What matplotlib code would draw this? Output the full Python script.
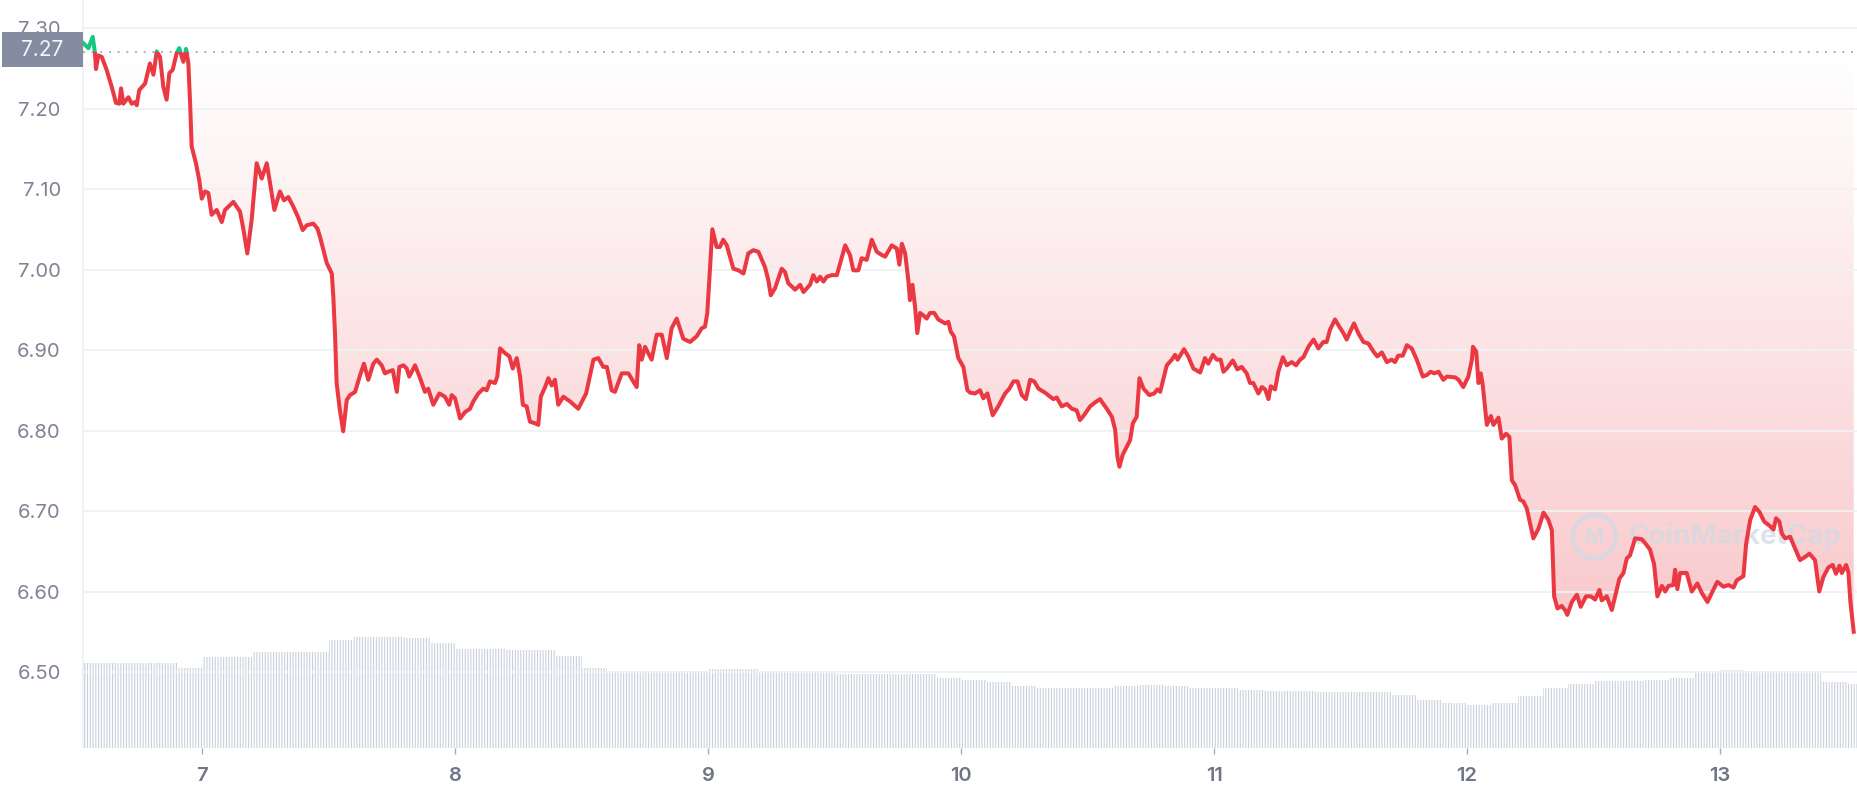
"""CoinMarketCap 스타일 7일 가격 차트: 기준가 대비 빨강/초록 선, 그라데이션 영역, 거래량 막대."""

import matplotlib.colors as mcolors
import matplotlib.pyplot as plt
import matplotlib.transforms as mtransforms
import numpy as np
from matplotlib.patches import Rectangle

plt.rcParams["font.family"] = ["Inter", "DejaVu Sans"]
plt.rcParams["hatch.linewidth"] = 0.8

# 가격 이력 (x: 일자, 소수부는 하루 중 시각)
times = [
    6.531, 6.551, 6.568, 6.577, 6.581, 6.590, 6.604, 6.623, 6.643, 6.660,
    6.673, 6.680, 6.689, 6.709, 6.722, 6.735, 6.742, 6.752, 6.775, 6.794,
    6.808, 6.821, 6.834, 6.847, 6.860, 6.871, 6.884, 6.900, 6.910, 6.926,
    6.937, 6.946, 6.953, 6.959, 6.976, 6.989, 6.999, 7.012, 7.025, 7.038,
    7.058, 7.078, 7.091, 7.124, 7.150, 7.163, 7.179, 7.196, 7.216, 7.236,
    7.256, 7.269, 7.286, 7.308, 7.324, 7.341, 7.361, 7.381, 7.398, 7.414,
    7.440, 7.456, 7.466, 7.493, 7.513, 7.519, 7.526, 7.532, 7.545, 7.558,
    7.572, 7.585, 7.605, 7.625, 7.640, 7.657, 7.677, 7.691, 7.710, 7.723,
    7.736, 7.754, 7.770, 7.780, 7.796, 7.809, 7.819, 7.842, 7.862, 7.881,
    7.894, 7.914, 7.938, 7.960, 7.977, 7.987, 8.000, 8.020, 8.040, 8.059,
    8.072, 8.092, 8.112, 8.125, 8.138, 8.158, 8.167, 8.178, 8.198, 8.215,
    8.228, 8.244, 8.257, 8.268, 8.283, 8.296, 8.316, 8.329, 8.339, 8.356,
    8.369, 8.382, 8.395, 8.408, 8.428, 8.455, 8.487, 8.518, 8.547, 8.566,
    8.586, 8.600, 8.619, 8.632, 8.659, 8.685, 8.718, 8.728, 8.738, 8.751,
    8.777, 8.797, 8.817, 8.837, 8.856, 8.876, 8.902, 8.929, 8.955, 8.975,
    8.988, 8.997, 9.008, 9.017, 9.034, 9.047, 9.060, 9.074, 9.100, 9.120,
    9.140, 9.159, 9.179, 9.199, 9.225, 9.238, 9.248, 9.265, 9.291, 9.304,
    9.317, 9.344, 9.364, 9.377, 9.403, 9.416, 9.430, 9.443, 9.456, 9.469,
    9.489, 9.509, 9.542, 9.561, 9.574, 9.594, 9.607, 9.627, 9.647, 9.667,
    9.687, 9.700, 9.726, 9.746, 9.756, 9.766, 9.779, 9.792, 9.798, 9.808,
    9.818, 9.827, 9.838, 9.851, 9.864, 9.877, 9.894, 9.910, 9.937, 9.950,
    9.959, 9.972, 9.989, 10.009, 10.025, 10.036, 10.055, 10.075, 10.088, 10.104,
    10.125, 10.147, 10.174, 10.191, 10.207, 10.223, 10.240, 10.256, 10.273, 10.289,
    10.306, 10.332, 10.352, 10.365, 10.378, 10.398, 10.418, 10.438, 10.457, 10.470,
    10.486, 10.510, 10.530, 10.549, 10.576, 10.596, 10.609, 10.618, 10.626, 10.639,
    10.655, 10.668, 10.679, 10.694, 10.705, 10.721, 10.744, 10.763, 10.776, 10.787,
    10.813, 10.833, 10.846, 10.856, 10.881, 10.898, 10.918, 10.945, 10.964, 10.977,
    10.995, 11.011, 11.026, 11.037, 11.050, 11.074, 11.092, 11.109, 11.129, 11.142,
    11.155, 11.175, 11.189, 11.202, 11.215, 11.224, 11.241, 11.254, 11.272, 11.287,
    11.307, 11.324, 11.340, 11.353, 11.373, 11.393, 11.412, 11.432, 11.445, 11.458,
    11.478, 11.495, 11.511, 11.524, 11.538, 11.553, 11.570, 11.590, 11.610, 11.630,
    11.645, 11.663, 11.683, 11.702, 11.715, 11.728, 11.746, 11.762, 11.781, 11.801,
    11.825, 11.841, 11.856, 11.870, 11.887, 11.906, 11.920, 11.953, 11.966, 11.985,
    12.005, 12.019, 12.023, 12.036, 12.045, 12.054, 12.062, 12.078, 12.094, 12.104,
    12.124, 12.137, 12.154, 12.167, 12.177, 12.190, 12.209, 12.222, 12.236, 12.262,
    12.282, 12.302, 12.321, 12.335, 12.344, 12.357, 12.374, 12.387, 12.396, 12.414,
    12.434, 12.449, 12.470, 12.489, 12.506, 12.523, 12.532, 12.552, 12.572, 12.585,
    12.602, 12.618, 12.631, 12.644, 12.664, 12.690, 12.704, 12.723, 12.739, 12.752,
    12.770, 12.783, 12.796, 12.815, 12.822, 12.831, 12.842, 12.868, 12.888, 12.910,
    12.928, 12.950, 12.973, 12.989, 13.013, 13.033, 13.053, 13.066, 13.092, 13.103,
    13.119, 13.138, 13.155, 13.174, 13.198, 13.211, 13.221, 13.234, 13.244, 13.257,
    13.277, 13.290, 13.316, 13.336, 13.353, 13.375, 13.392, 13.408, 13.428, 13.445,
    13.458, 13.472, 13.481, 13.498, 13.507, 13.515, 13.528,
]
prices = [
    7.281, 7.275, 7.289, 7.269, 7.249, 7.266, 7.264, 7.248, 7.227, 7.207,
    7.206, 7.225, 7.206, 7.214, 7.206, 7.208, 7.204, 7.223, 7.231, 7.256,
    7.242, 7.271, 7.264, 7.227, 7.211, 7.244, 7.248, 7.269, 7.275, 7.258,
    7.274, 7.256, 7.206, 7.153, 7.132, 7.111, 7.088, 7.097, 7.095, 7.068,
    7.074, 7.059, 7.074, 7.084, 7.072, 7.051, 7.020, 7.061, 7.132, 7.113,
    7.132, 7.107, 7.074, 7.097, 7.086, 7.090, 7.078, 7.064, 7.049, 7.055,
    7.057, 7.051, 7.041, 7.008, 6.995, 6.966, 6.917, 6.859, 6.825, 6.799,
    6.838, 6.844, 6.848, 6.869, 6.883, 6.863, 6.883, 6.888, 6.881, 6.871,
    6.873, 6.875, 6.848, 6.879, 6.881, 6.877, 6.867, 6.881, 6.865, 6.848,
    6.852, 6.832, 6.846, 6.842, 6.832, 6.844, 6.840, 6.815, 6.823, 6.827,
    6.836, 6.846, 6.852, 6.850, 6.861, 6.859, 6.867, 6.902, 6.896, 6.892,
    6.877, 6.890, 6.867, 6.832, 6.830, 6.811, 6.809, 6.807, 6.842, 6.854,
    6.865, 6.856, 6.863, 6.832, 6.842, 6.836, 6.827, 6.846, 6.888, 6.890,
    6.879, 6.879, 6.850, 6.848, 6.871, 6.871, 6.854, 6.906, 6.888, 6.904,
    6.888, 6.919, 6.919, 6.890, 6.927, 6.939, 6.914, 6.910, 6.917, 6.927,
    6.929, 6.946, 7.003, 7.050, 7.028, 7.028, 7.037, 7.030, 7.001, 6.999,
    6.995, 7.020, 7.024, 7.022, 7.003, 6.987, 6.968, 6.977, 7.001, 6.997,
    6.983, 6.975, 6.981, 6.972, 6.981, 6.993, 6.985, 6.991, 6.985, 6.991,
    6.993, 6.993, 7.030, 7.018, 6.999, 6.999, 7.014, 7.012, 7.037, 7.022,
    7.018, 7.016, 7.030, 7.026, 7.006, 7.032, 7.020, 6.985, 6.962, 6.981,
    6.954, 6.921, 6.946, 6.943, 6.939, 6.946, 6.946, 6.938, 6.933, 6.935,
    6.923, 6.917, 6.890, 6.879, 6.850, 6.847, 6.846, 6.850, 6.840, 6.846,
    6.819, 6.830, 6.846, 6.852, 6.861, 6.861, 6.844, 6.839, 6.863, 6.861,
    6.852, 6.847, 6.842, 6.839, 6.841, 6.830, 6.833, 6.827, 6.825, 6.813,
    6.819, 6.830, 6.835, 6.839, 6.827, 6.817, 6.801, 6.767, 6.755, 6.770,
    6.780, 6.788, 6.809, 6.817, 6.865, 6.852, 6.844, 6.846, 6.851, 6.848,
    6.881, 6.888, 6.894, 6.888, 6.901, 6.892, 6.877, 6.872, 6.890, 6.883,
    6.894, 6.888, 6.888, 6.873, 6.877, 6.887, 6.876, 6.879, 6.871, 6.859,
    6.859, 6.846, 6.854, 6.851, 6.839, 6.855, 6.851, 6.873, 6.891, 6.881,
    6.885, 6.881, 6.888, 6.891, 6.904, 6.913, 6.902, 6.910, 6.910, 6.925,
    6.938, 6.929, 6.921, 6.913, 6.923, 6.933, 6.921, 6.910, 6.908, 6.898,
    6.892, 6.897, 6.885, 6.888, 6.885, 6.893, 6.893, 6.906, 6.902, 6.888,
    6.867, 6.869, 6.873, 6.871, 6.873, 6.863, 6.867, 6.866, 6.863, 6.854,
    6.867, 6.888, 6.904, 6.898, 6.859, 6.871, 6.856, 6.807, 6.818, 6.807,
    6.816, 6.790, 6.796, 6.792, 6.738, 6.732, 6.714, 6.712, 6.703, 6.666,
    6.678, 6.698, 6.689, 6.676, 6.594, 6.579, 6.582, 6.577, 6.571, 6.587,
    6.596, 6.581, 6.594, 6.594, 6.590, 6.602, 6.589, 6.594, 6.577, 6.594,
    6.616, 6.623, 6.641, 6.645, 6.666, 6.665, 6.660, 6.652, 6.634, 6.594,
    6.607, 6.600, 6.607, 6.608, 6.627, 6.603, 6.623, 6.623, 6.600, 6.610,
    6.598, 6.587, 6.602, 6.612, 6.606, 6.608, 6.605, 6.614, 6.619, 6.660,
    6.689, 6.705, 6.699, 6.687, 6.681, 6.677, 6.691, 6.687, 6.672, 6.666,
    6.668, 6.658, 6.639, 6.643, 6.647, 6.639, 6.600, 6.618, 6.630, 6.633,
    6.622, 6.632, 6.623, 6.633, 6.624, 6.587, 6.550,
]
open_price = 7.27

# 24h 거래량 (백만 USD), 0.1일 간격 구간
volume_musd = [
    34.0, 34.0, 34.0, 34.0, 32.0, 36.4, 36.4, 38.4, 38.4, 38.4,
    43.2, 44.4, 44.4, 44.0, 42.0, 39.6, 39.6, 39.2, 39.2, 36.8,
    32.0, 30.0, 30.4, 30.4, 30.8, 31.6, 31.6, 30.4, 30.0, 30.0,
    29.6, 29.6, 29.6, 29.6, 28.0, 27.2, 26.4, 24.8, 24.0, 24.0,
    24.0, 24.8, 25.2, 24.8, 24.0, 24.0, 23.2, 22.8, 22.8, 22.4,
    22.4, 22.4, 21.2, 19.2, 18.0, 17.2, 18.0, 20.8, 24.0, 25.6,
    26.8, 26.8, 27.2, 28.0, 30.0, 31.2, 30.8, 30.4, 30.4, 26.4,
    25.6,
]
volume_first_center = 6.55
volume_bucket_days = 0.1

day_ticks = [7, 8, 9, 10, 11, 12, 13]
price_ticks = [6.50, 6.60, 6.70, 6.80, 6.90, 7.00, 7.10, 7.20, 7.30]

RED = "#ea3943"
GREEN = "#16c784"
GRID = "#eff2f5"
LABEL = "#858ca2"
VOLUME = "#c8d0dc"
WATERMARK = "#d3d9e4"

x_range = (6.5296, 13.541)
y_range = (6.4056, 7.3348)

fig = plt.figure(figsize=(18.58, 8.0), dpi=100)
ax = fig.add_axes([83 / 1858, 52 / 800, 1774 / 1858, 748 / 800])
ax_vol = ax.twinx()
ax.set_zorder(ax_vol.get_zorder() + 1)
ax.patch.set_visible(False)

# 거래량 막대: 세로 해칭으로 얇은 막대 느낌을 낸다
volume_centers = volume_first_center + volume_bucket_days * np.arange(len(volume_musd))
ax_vol.bar(
    volume_centers,
    volume_musd,
    width=volume_bucket_days,
    facecolor="white",
    edgecolor=VOLUME,
    linewidth=0,
    hatch="||||||",
)
ax_vol.set_ylim(0, max(volume_musd) / 0.148)
ax_vol.set_yticks([])
for spine in ax_vol.spines.values():
    spine.set_visible(False)

# 기준가 아래 영역 그라데이션
area = ax.fill_between(times, prices, open_price, facecolor="none", edgecolor="none")
gradient = np.zeros((256, 1, 4))
gradient[..., :3] = mcolors.to_rgb(RED)
gradient[:, 0, 3] = np.linspace(0.28, 0.0, 256)
image = ax.imshow(
    gradient,
    extent=[x_range[0], x_range[1], min(prices), open_price],
    origin="lower",
    aspect="auto",
    interpolation="bilinear",
    zorder=1,
)
image.set_clip_path(area.get_paths()[0], transform=ax.transData)

# 가격선: 기준가 위는 초록, 아래는 빨강
below = Rectangle(
    (x_range[0], y_range[0]), x_range[1] - x_range[0], open_price - y_range[0],
    transform=ax.transData,
)
above = Rectangle(
    (x_range[0], open_price), x_range[1] - x_range[0], y_range[1] - open_price,
    transform=ax.transData,
)
red_line, = ax.plot(times, prices, color=RED, linewidth=2.9, solid_joinstyle="round", zorder=4)
red_line.set_clip_path(below)
green_line, = ax.plot(times, prices, color=GREEN, linewidth=2.9, solid_joinstyle="round", zorder=4)
green_line.set_clip_path(above)

ax.axhline(open_price, color="#9ea4b3", linewidth=1.2, dashes=(1.2, 4.0), zorder=3)

# 좌측 기준가 라벨
blend = mtransforms.blended_transform_factory(ax.transAxes, ax.transData)
ax.add_patch(Rectangle(
    (-0.0457, open_price - 0.019), 0.0457, 0.0435,
    transform=blend, facecolor=LABEL, edgecolor="none", clip_on=False, zorder=6,
))
ax.text(
    -0.0228, open_price + 0.0025, f"{open_price:.2f}", transform=blend,
    ha="center", va="center", color="#f4f5f7", fontsize=15, zorder=7,
)

# 워터마크
ax.plot(
    [0.852], [0.283], transform=ax.transAxes, marker="o", markersize=31,
    markerfacecolor="none", markeredgecolor=WATERMARK, markeredgewidth=3.5,
    alpha=0.75, zorder=3.5,
)
ax.text(
    0.852, 0.281, "M", transform=ax.transAxes, ha="center", va="center",
    fontsize=15, fontweight="bold", color=WATERMARK, alpha=0.75, zorder=3.5,
)
ax.text(
    0.8715, 0.283, "CoinMarketCap", transform=ax.transAxes, ha="left", va="center",
    fontsize=20, fontweight="bold", color=WATERMARK, alpha=0.75, zorder=3.5,
)

ax.set_xlim(*x_range)
ax.set_ylim(*y_range)
ax.set_yticks(price_ticks)
ax.set_yticklabels([f"{p:.2f}" for p in price_ticks])
ax.set_xticks(day_ticks)
ax.set_xticklabels([str(d) for d in day_ticks])
ax.grid(axis="y", color=GRID, linewidth=1.3, zorder=0)
ax.tick_params(axis="y", length=0, pad=16, labelsize=14.5, labelcolor="#7d8393")
ax.tick_params(axis="x", length=4, width=1, color="#a5abb8", pad=10,
               labelsize=14.5, labelcolor="#6f7585")
for label in ax.get_xticklabels():
    label.set_fontweight("semibold")
for name, spine in ax.spines.items():
    spine.set_visible(name == "left")
ax.spines["left"].set_color(GRID)
ax.spines["left"].set_linewidth(1.3)

fig.savefig("out.png", dpi=100, facecolor="white")
plt.close(fig)
